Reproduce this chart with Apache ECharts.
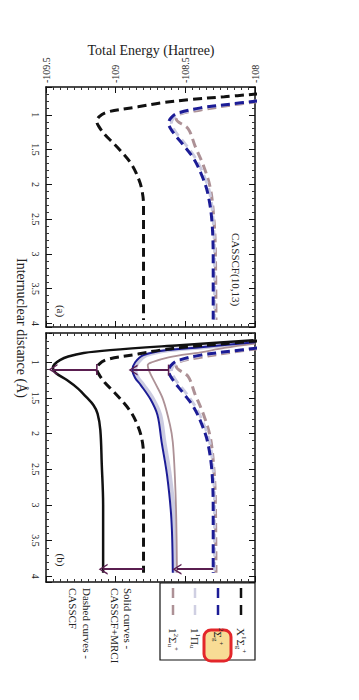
<!DOCTYPE html>
<html><head><meta charset="utf-8">
<script src="https://cdn.jsdelivr.net/npm/echarts@6/dist/echarts.min.js"></script>
<style>html,body{margin:0;padding:0;background:#fff;}#c{width:359px;height:700px;}</style>
</head><body><div id="c"></div>
<script>
// ---- axis ticks ----
const energyTicks = [-109.5, -109.0, -108.5, -108.0];
const distTicks = [1, 1.5, 2, 2.5, 3, 3.5, 4];
const distRangeA = [0.6, 4.05];
const distRangeB = [0.59, 4.08];

// ---- CASSCF (dashed) curves: distance (Å) and total energy (Hartree) ----
const dXcas = [0.70, 0.74, 0.78, 0.83, 0.885, 0.96, 1.03, 1.10, 1.17, 1.28, 1.40, 1.55, 1.70, 1.85, 2.05, 2.30, 2.70, 3.20, 3.95];
const eXcas = [-107.98, -108.22, -108.46, -108.68, -108.84, -109.06, -109.12, -109.135, -109.12, -109.08, -109.02, -108.95, -108.89, -108.85, -108.815, -108.80, -108.80, -108.80, -108.80];

const dBcas = [0.80, 0.84, 0.90, 0.98, 1.05, 1.12, 1.20, 1.30, 1.42, 1.63, 1.88, 2.12, 2.51, 3.08, 3.95];
const eBcas = [-107.98, -108.15, -108.39, -108.56, -108.605, -108.62, -108.605, -108.57, -108.52, -108.44, -108.38, -108.34, -108.31, -108.30, -108.30];

const dPcas = [0.80, 0.84, 0.90, 0.98, 1.05, 1.12, 1.20, 1.30, 1.42, 1.63, 1.88, 2.12, 2.51, 3.08, 3.95];
const ePcas = [-107.98, -108.14, -108.37, -108.535, -108.585, -108.60, -108.585, -108.55, -108.50, -108.425, -108.365, -108.325, -108.30, -108.29, -108.29];

const dScas = [0.81, 0.86, 0.93, 0.99, 1.06, 1.20, 1.45, 1.73, 2.06, 2.50, 2.90, 3.95];
const eScas = [-107.98, -108.17, -108.39, -108.54, -108.565, -108.48, -108.43, -108.37, -108.32, -108.295, -108.285, -108.28];

// ---- CASSCF+MRCI (solid) curves ----
const dXmr = [0.69, 0.76, 0.83, 0.87, 0.92, 0.97, 1.03, 1.08, 1.15, 1.25, 1.37, 1.49, 1.60, 1.72, 1.95, 2.42, 3.00, 3.95];
const eXmr = [-108.01, -108.54, -109.04, -109.23, -109.34, -109.40, -109.44, -109.45, -109.43, -109.35, -109.27, -109.21, -109.16, -109.13, -109.11, -109.10, -109.09, -109.09];

const dBmr = [0.72, 0.79, 0.83, 0.90, 1.00, 1.11, 1.22, 1.32, 1.52, 1.74, 2.12, 2.60, 3.20, 3.95];
const eBmr = [-108.00, -108.39, -108.63, -108.80, -108.86, -108.88, -108.86, -108.82, -108.75, -108.70, -108.67, -108.63, -108.60, -108.59];

const dPmr = [0.72, 0.79, 0.83, 0.90, 1.00, 1.11, 1.22, 1.32, 1.52, 1.74, 2.12, 2.60, 3.20, 3.95];
const ePmr = [-108.00, -108.37, -108.61, -108.78, -108.84, -108.86, -108.84, -108.80, -108.73, -108.68, -108.65, -108.61, -108.58, -108.575];

const dSmr = [0.74, 0.80, 0.86, 0.93, 1.00, 1.04, 1.12, 1.28, 1.52, 1.88, 2.12, 2.60, 3.20, 3.95];
const eSmr = [-108.00, -108.22, -108.39, -108.62, -108.74, -108.77, -108.76, -108.72, -108.66, -108.61, -108.59, -108.575, -108.565, -108.56];

// ---- correlation arrows (panel b): distance, from (CASSCF) energy, to (MRCI) energy ----
const arrowDist = [1.10, 1.11, 3.90, 3.90];
const arrowFrom = [-109.135, -108.62, -108.80, -108.30];
const arrowTo = [-109.45, -108.875, -109.09, -108.56];
const arrowCap = [true, true, false, false];

// ---- legend ----
const legendColors = ['#111111', '#1c1c96', '#cfcfe2', '#ad9196'];

const COL = { X: '#111111', B: '#1c1c96', P: '#cbcbe0', S: '#ad9196', arrow: '#5a1e50' };
const SERIF = '"Liberation Serif", "DejaVu Serif", serif';

function pairs(d, e) { return e.map((v, i) => [v, d[i]]); }

const chart = echarts.init(document.getElementById('c'), null, { renderer: 'svg' });

function xAx(grid, pos, labels) {
  return {
    type: 'value', gridIndex: grid, position: pos,
    min: energyTicks[0], max: energyTicks[energyTicks.length - 1],
    interval: energyTicks[1] - energyTicks[0],
    axisLine: { show: true, onZero: false, lineStyle: { color: '#111', width: 1.5 } },
    axisTick: { show: true, inside: true, length: 6, lineStyle: { color: '#111', width: 1 } },
    minorTick: { show: true, splitNumber: 10, length: 3, lineStyle: { color: '#333', width: 1 } },
    splitLine: { show: false },
    axisLabel: labels ? {
      show: true, rotate: -90, margin: 4, fontFamily: SERIF, fontSize: 10, color: '#222',
      formatter: v => String(v)
    } : { show: false }
  };
}
function yAx(grid, pos, labels, range) {
  return {
    type: 'value', gridIndex: grid, position: pos, inverse: true,
    min: range[0], max: range[1], splitNumber: 7,
    axisLine: { show: true, onZero: false, lineStyle: { color: '#111', width: 1.5 } },
    axisTick: { show: true, inside: true, length: 6, lineStyle: { color: '#111', width: 1 } },
    minorTick: { show: true, splitNumber: 5, length: 3, lineStyle: { color: '#333', width: 1 } },
    splitLine: { show: false },
    axisLabel: labels ? {
      show: true, rotate: -90, margin: 6, fontFamily: SERIF, fontSize: 10, color: '#222',
      showMinLabel: false, showMaxLabel: false,
      formatter: v => (distTicks.indexOf(Math.round(v * 100) / 100) >= 0 ? String(v) : '')
    } : { show: false }
  };
}

function dashed(name, xi, yi, d, e, color) {
  return {
    name, type: 'line', xAxisIndex: xi, yAxisIndex: yi, data: pairs(d, e),
    showSymbol: false, smooth: 0.35, silent: true, clip: true,
    lineStyle: { color, width: 3, type: [9, 5] }, z: 3
  };
}
function solid(name, xi, yi, d, e, color, w, z) {
  return {
    name, type: 'line', xAxisIndex: xi, yAxisIndex: yi, data: pairs(d, e),
    showSymbol: false, smooth: 0.35, silent: true, clip: true,
    lineStyle: { color, width: w, type: 'solid' }, z: z || 2
  };
}

const capPath = 'path://M0,0 L10,0 L10,1.6 L0,1.6 Z';
const headPath = 'path://M0,12 L6,0 L12,12 L10.2,12 L6,3.4 L1.8,12 Z';

const arrowData = arrowDist.map((d, i) => [
  { coord: [arrowFrom[i], d], symbol: arrowCap[i] ? capPath : 'none', symbolSize: [11, 1.6] },
  { coord: [arrowTo[i], d], symbol: headPath, symbolSize: [11, 9] }
]);

const series = [
  // panel (a)
  dashed('S a', 0, 0, dScas, eScas, COL.S),
  dashed('P a', 0, 0, dPcas, ePcas, COL.P),
  dashed('B a', 0, 0, dBcas, eBcas, COL.B),
  dashed('X a', 0, 0, dXcas, eXcas, COL.X),
  // panel (b)
  dashed('S b', 2, 2, dScas, eScas, COL.S),
  dashed('P b', 2, 2, dPcas, ePcas, COL.P),
  dashed('B b', 2, 2, dBcas, eBcas, COL.B),
  dashed('X b', 2, 2, dXcas, eXcas, COL.X),
  solid('S mr', 2, 2, dSmr, eSmr, COL.S, 1.8, 2),
  solid('P mr', 2, 2, dPmr, ePmr, COL.P, 4, 1),
  solid('B mr', 2, 2, dBmr, eBmr, COL.B, 2, 2),
  Object.assign(solid('X mr', 2, 2, dXmr, eXmr, COL.X, 2.5, 2), {
    markLine: {
      silent: true, animation: false, precision: 4,
      label: { show: false },
      lineStyle: { color: COL.arrow, width: 1.8, type: 'solid' },
      emphasis: { disabled: true },
      data: arrowData
    }
  })
];

// legend & annotations as graphic elements
const rot = -Math.PI / 2;
function rtext(x, y, text, size, align, extra) {
  return Object.assign({
    type: 'text', x, y, rotation: rot, silent: true,
    style: { text, fontFamily: SERIF, fontSize: size, fill: '#222', align: align || 'center', verticalAlign: 'middle' }
  }, extra || {});
}
const legX = [241, 218, 195, 173];
const graphics = [
  { type: 'text', x: 151, y: 50, silent: true,
    style: { text: 'Total Energy (Hartree)', fontFamily: SERIF, fontSize: 14, fill: '#222', align: 'center', verticalAlign: 'middle' } },
  rtext(21, 328, 'Internuclear distance (Å)', 14, 'center'),
  rtext(236, 233, 'CASSCF(10,13)', 11, 'left'),
  rtext(61, 311, '(a)', 11, 'center'),
  rtext(61, 560, '(b)', 11, 'center'),
  rtext(128, 588, 'Solid curves -', 11, 'left'),
  rtext(115, 588, 'CASSCF+MRCI', 11, 'left'),
  rtext(87, 588, 'Dashed curves -', 11, 'left'),
  rtext(73, 588, 'CASSCF', 11, 'left'),
  // legend box
  { type: 'rect', silent: true, shape: { x: 160, y: 583, width: 95, height: 77 },
    style: { fill: '#fff', stroke: '#111', lineWidth: 1.2 }, z: 0 },
  // highlight around the second legend label
  { type: 'rect', silent: true, shape: { x: 204, y: 630, width: 27, height: 31, r: 7 },
    style: { fill: '#f8dc95', stroke: '#e3262a', lineWidth: 3 }, z: 1 }
];
legX.forEach((x, i) => {
  graphics.push({ type: 'line', silent: true, shape: { x1: x, y1: 588, x2: x, y2: 598 },
    style: { stroke: legendColors[i], lineWidth: 2.5 }, z: 2 });
  graphics.push({ type: 'line', silent: true, shape: { x1: x, y1: 605, x2: x, y2: 615 },
    style: { stroke: legendColors[i], lineWidth: 2.5 }, z: 2 });
});
const rich = {
  n: { fontFamily: SERIF, fontSize: 11, fill: '#222' },
  sup: { fontFamily: SERIF, fontSize: 7, fill: '#222', verticalAlign: 'top', padding: [0, 0, 6, 0] },
  sub: { fontFamily: SERIF, fontSize: 7, fill: '#222', verticalAlign: 'bottom', padding: [6, 0, 0, 0] }
};
const legLabels = [
  '{n|X}{sup|1}{n|Σ}{sub|g}{sup|+}',
  '{sup|2}{n|Σ}{sub|g}{sup|+}',
  '{n|1}{sup|1}{n|Π}{sub|u}',
  '{n|1}{sup|2}{n|Σ}{sub|u}{sup|+}'
];
legX.forEach((x, i) => {
  graphics.push({ type: 'text', x: x, y: 628, rotation: rot, silent: true, z: 3,
    style: { text: legLabels[i], rich, fontFamily: SERIF, fontSize: 11, fill: '#222', align: 'left', verticalAlign: 'middle' } });
});

chart.setOption({
  animation: false,
  backgroundColor: '#fff',
  grid: [
    { left: 46, top: 87, width: 209, height: 240, show: false },
    { left: 46, top: 333, width: 209, height: 249, show: false }
  ],
  xAxis: [xAx(0, 'top', true), xAx(0, 'bottom', false), xAx(1, 'top', false), xAx(1, 'bottom', false)],
  yAxis: [yAx(0, 'left', true, distRangeA), yAx(0, 'right', false, distRangeA),
          yAx(1, 'left', true, distRangeB), yAx(1, 'right', false, distRangeB)],
  series,
  graphic: graphics
});
</script></body></html>
